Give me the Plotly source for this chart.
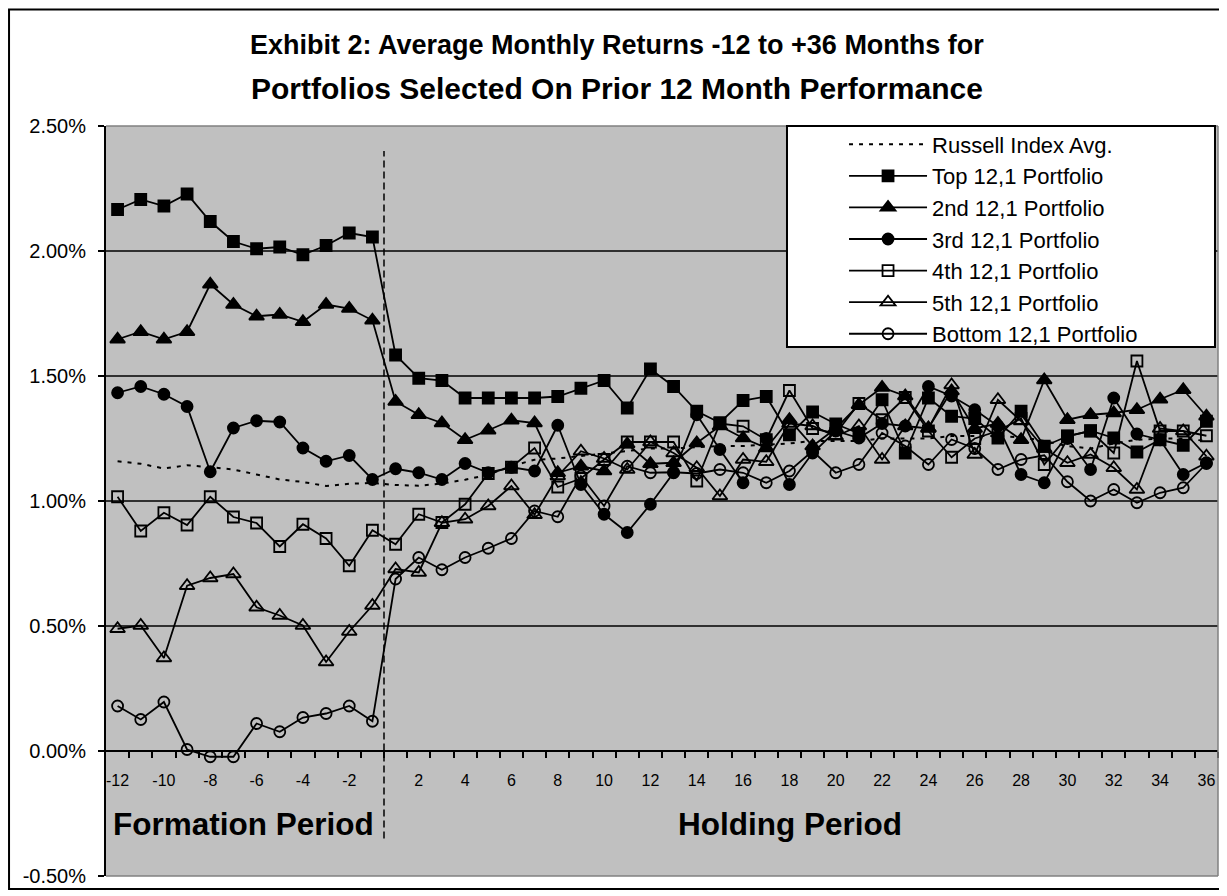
import plotly.graph_objects as go

months = list(range(-12, 0)) + list(range(1, 37))

russell = [1.159, 1.149, 1.130, 1.143, 1.135, 1.126, 1.106, 1.086, 1.076, 1.060, 1.069, 1.072,
           1.064, 1.061, 1.070, 1.085, 1.105, 1.140, 1.165, 1.170, 1.180, 1.190, 1.200, 1.210,
           1.210, 1.215, 1.220, 1.220, 1.225, 1.230, 1.240, 1.240, 1.240, 1.250, 1.250, 1.250,
           1.260, 1.260, 1.260, 1.255, 1.240, 1.220, 1.210, 1.230, 1.245, 1.250, 1.250, 1.240]

top = [2.166, 2.206, 2.180, 2.228, 2.118, 2.038, 2.009, 2.016, 1.985, 2.022, 2.072, 2.056,
       1.584, 1.491, 1.482, 1.412, 1.412, 1.412, 1.412, 1.418, 1.451, 1.482, 1.372, 1.528,
       1.458, 1.359, 1.313, 1.402, 1.418, 1.265, 1.356, 1.308, 1.270, 1.405, 1.192, 1.412,
       1.339, 1.330, 1.252, 1.359, 1.219, 1.259, 1.281, 1.252, 1.196, 1.245, 1.223, 1.319]

second = [1.647, 1.677, 1.647, 1.677, 1.867, 1.786, 1.739, 1.746, 1.717, 1.786, 1.770, 1.723,
          1.398, 1.345, 1.312, 1.245, 1.283, 1.323, 1.312, 1.113, 1.139, 1.120, 1.228, 1.149,
          1.153, 1.232, 1.300, 1.252, 1.212, 1.325, 1.220, 1.290, 1.385, 1.454, 1.420, 1.292,
          1.440, 1.290, 1.310, 1.245, 1.484, 1.325, 1.345, 1.352, 1.365, 1.407, 1.445, 1.339]

third = [1.433, 1.458, 1.427, 1.378, 1.117, 1.292, 1.321, 1.316, 1.212, 1.159, 1.182, 1.086,
         1.129, 1.113, 1.086, 1.150, 1.113, 1.135, 1.120, 1.303, 1.066, 0.947, 0.874, 0.987,
         1.113, 1.345, 1.206, 1.073, 1.250, 1.066, 1.192, 1.280, 1.252, 1.310, 1.300, 1.458,
         1.420, 1.365, 1.300, 1.106, 1.073, 1.250, 1.126, 1.412, 1.268, 1.245, 1.106, 1.153]

fourth = [1.017, 0.880, 0.953, 0.904, 1.017, 0.936, 0.912, 0.818, 0.907, 0.850, 0.741, 0.883,
          0.827, 0.947, 0.914, 0.987, 1.110, 1.135, 1.212, 1.056, 1.090, 1.166, 1.236, 1.236,
          1.236, 1.080, 1.310, 1.299, 1.245, 1.442, 1.290, 1.270, 1.390, 1.325, 1.414, 1.280,
          1.175, 1.250, 1.280, 1.330, 1.146, 1.260, 1.280, 1.192, 1.560, 1.280, 1.280, 1.261]

fifth = [0.489, 0.502, 0.372, 0.661, 0.692, 0.708, 0.575, 0.542, 0.502, 0.356, 0.478, 0.582,
         0.728, 0.714, 0.913, 0.927, 0.980, 1.060, 0.945, 1.100, 1.199, 1.170, 1.126, 1.236,
         1.192, 1.133, 1.020, 1.166, 1.157, 1.310, 1.300, 1.259, 1.300, 1.166, 1.300, 1.290,
         1.464, 1.186, 1.405, 1.320, 1.210, 1.153, 1.186, 1.133, 1.046, 1.290, 1.280, 1.179]

bottom = [0.180, 0.126, 0.196, 0.006, -0.023, -0.023, 0.110, 0.077, 0.134, 0.150, 0.180, 0.119,
          0.688, 0.774, 0.725, 0.774, 0.811, 0.850, 0.960, 0.937, 1.100, 0.980, 1.139, 1.113,
          1.115, 1.110, 1.126, 1.113, 1.073, 1.120, 1.200, 1.113, 1.146, 1.272, 1.220, 1.146,
          1.246, 1.210, 1.126, 1.166, 1.183, 1.077, 1.000, 1.046, 0.993, 1.033, 1.053, 1.150]

series_names = ["Russell Index Avg.", "Top 12,1 Portfolio", "2nd 12,1 Portfolio", "3rd 12,1 Portfolio",
                "4th 12,1 Portfolio", "5th 12,1 Portfolio", "Bottom 12,1 Portfolio"]
y_ticks = [-0.5, 0.0, 0.5, 1.0, 1.5, 2.0, 2.5]

pos = list(range(len(months)))
tick_pos = [i for i, m in enumerate(months) if m % 2 == 0]
tick_txt = [str(m) for m in months if m % 2 == 0]

FONT = "Liberation Sans, Arial, sans-serif"
NARROW = "Liberation Sans Narrow, Arial Narrow, Liberation Sans, Arial, sans-serif"

fig = go.Figure()
fig.add_trace(go.Scatter(x=pos, y=russell, name=series_names[0], mode="lines",
                         line=dict(color="black", width=2, dash="4px,6px")))
styles = [
    (top, "square", 11),
    (second, "triangle-up", 13),
    (third, "circle", 11),
    (fourth, "square-open", 11),
    (fifth, "triangle-up-open", 13),
    (bottom, "circle-open", 11),
]
for (vals, sym, sz), nm in zip(styles, series_names[1:]):
    fig.add_trace(go.Scatter(
        x=pos, y=vals, name=nm, mode="lines+markers",
        line=dict(color="black", width=1.8),
        marker=dict(symbol=sym, size=sz, color="black", line=dict(color="black", width=1.8)),
    ))

shapes = []
for g in [0.5, 1.0, 1.5, 2.0]:
    shapes.append(dict(type="line", xref="paper", yref="y", x0=0, x1=1, y0=g, y1=g,
                       line=dict(color="black", width=1.3), layer="below"))
# plot area edges (gray)
shapes.append(dict(type="line", xref="paper", yref="paper", x0=0, x1=1, y0=1, y1=1,
                   line=dict(color="#808080", width=1.5)))
shapes.append(dict(type="line", xref="paper", yref="paper", x0=1, x1=1, y0=0, y1=1,
                   line=dict(color="#808080", width=1.5)))
shapes.append(dict(type="line", xref="paper", yref="paper", x0=0, x1=1, y0=0, y1=0,
                   line=dict(color="#808080", width=1.5)))
# formation / holding divider
shapes.append(dict(type="line", xref="x", yref="y", x0=11.5, x1=11.5, y0=-0.35, y1=2.4,
                   line=dict(color="black", width=1.5, dash="7px,4px")))
# legend frame (white box behind the legend entries)
shapes.append(dict(type="rect", xref="paper", yref="paper", x0=0.6124, x1=0.9973, y0=0.7052, y1=1.0,
                   fillcolor="white", line=dict(color="black", width=2), layer="above"))
# outer chart border
shapes.append(dict(type="rect", xref="paper", yref="paper", x0=-0.0872, x1=1.0036, y0=-0.0173, y1=1.1554,
                   line=dict(color="black", width=2)))

annotations = [
    dict(text="<b>Exhibit 2: Average Monthly Returns -12 to +36 Months for</b>", xref="paper", yref="paper",
         x=0.4595, y=1.1076, showarrow=False, font=dict(family=FONT, size=27, color="black"),
         xanchor="center", yanchor="middle"),
    dict(text="<b>Portfolios Selected On Prior 12 Month Performance</b>", xref="paper", yref="paper",
         x=0.4595, y=1.0505, showarrow=False, font=dict(family=FONT, size=30, color="black"),
         xanchor="center", yanchor="middle"),
    dict(text="<b>Formation Period</b>", xref="paper", yref="paper", x=0.1241, y=0.0691,
         showarrow=False, font=dict(family=FONT, size=31.5, color="black"), xanchor="center", yanchor="middle"),
    dict(text="<b>Holding Period</b>", xref="paper", yref="paper", x=0.6151, y=0.0691,
         showarrow=False, font=dict(family=FONT, size=31.5, color="black"), xanchor="center", yanchor="middle"),
]

fig.update_layout(
    width=1219, height=888,
    margin=dict(l=98, r=9, t=118, b=17),
    paper_bgcolor="white", plot_bgcolor="#C0C0C0",
    font=dict(family=FONT, color="black"),
    shapes=shapes, annotations=annotations,
    showlegend=True,
    legend=dict(x=0.6637, y=1.0035, xanchor="left", yanchor="top", bgcolor="rgba(0,0,0,0)",
                borderwidth=0, font=dict(family=FONT, size=22, color="black"),
                tracegroupgap=0, itemwidth=78),
    xaxis=dict(range=[-0.5, len(months) - 0.5], anchor="free", position=1 / 6,
               tickmode="array", tickvals=tick_pos, ticktext=tick_txt, ticks="",
               tickfont=dict(family=NARROW, size=16, color="black"),
               showline=True, linecolor="black", linewidth=2, showgrid=False, zeroline=False,
               minor=dict(tickmode="array", tickvals=[i + 0.5 for i in range(len(months))],
                          ticks="outside", ticklen=6, tickcolor="black", tickwidth=1.5, showgrid=False),
               ticklabelstandoff=15),
    yaxis=dict(range=[-0.5, 2.5], tickmode="array", tickvals=y_ticks,
               ticktext=["%.2f%%" % v for v in y_ticks],
               ticks="outside", ticklen=6, tickcolor="black", tickwidth=1.5,
               tickfont=dict(family=FONT, size=20, color="black"),
               showline=True, linecolor="black", linewidth=2, showgrid=False, zeroline=False,
               ticklabelstandoff=8),
)

fig.write_html("out.html")
